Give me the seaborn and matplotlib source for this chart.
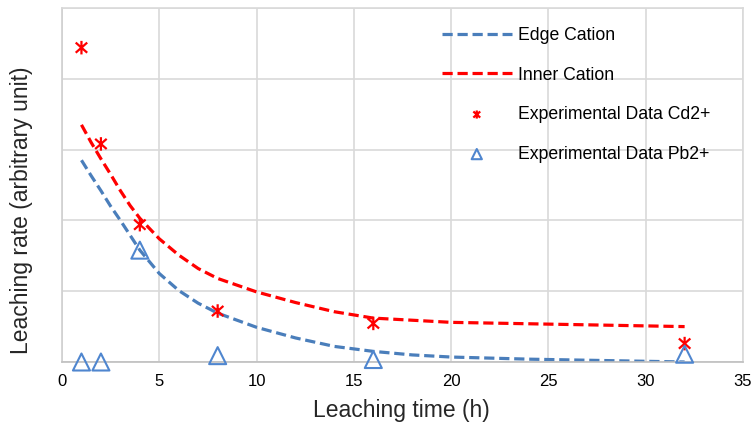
import numpy as np
import pandas as pd
import matplotlib
matplotlib.use("Agg")
import matplotlib.pyplot as plt
from matplotlib.path import Path
import seaborn as sns

# ---- data ----
curve_x = [1, 1.5, 2, 2.5, 3, 3.5, 4, 5, 6, 7, 8, 10, 12, 14, 16, 18, 20, 24, 28, 32]
edge_y = [2.85, 2.63, 2.42, 2.20, 2.00, 1.79, 1.58, 1.25, 1.01, 0.83, 0.69, 0.49,
          0.34, 0.22, 0.15, 0.10, 0.07, 0.04, 0.02, 0.0]
inner_y = [3.35, 3.10, 2.87, 2.65, 2.42, 2.21, 2.03, 1.74, 1.51, 1.32, 1.18, 0.99,
           0.84, 0.71, 0.62, 0.59, 0.56, 0.54, 0.52, 0.50]
exp_x = [1, 2, 4, 8, 16, 32]
cd_y = [4.44, 3.08, 1.94, 0.72, 0.545, 0.26]
pb_y = [0.0, 0.0, 1.58, 0.09, 0.035, 0.11]
x_ticks = [0, 5, 10, 15, 20, 25, 30, 35]
y_grid = [0, 1, 2, 3, 4, 5]
labels = ["Edge Cation", "Inner Cation", "Experimental Data Cd2+", "Experimental Data Pb2+"]
x_label = "Leaching time (h)"
y_label = "Leaching rate (arbitrary unit)"

BLUE_LINE = "#4A7EBB"
BLUE_MARK = "#4F86CF"
RED = "#FF0000"
GRID = "#D9D9D9"

sns.set_style("white")
plt.rcParams["font.family"] = ["Liberation Sans", "DejaVu Sans"]

W, H = 755, 428
fig = plt.figure(figsize=(W / 100, H / 100), dpi=100)
ax = fig.add_axes([62 / W, 1 - 362 / H, (743 - 62) / W, (362 - 8) / H])

curves = pd.DataFrame({"x": curve_x, "edge": edge_y, "inner": inner_y})
exp = pd.DataFrame({"x": exp_x, "cd": cd_y, "pb": pb_y})

sns.lineplot(data=curves, x="x", y="edge", color=BLUE_LINE, lw=2.3, ax=ax,
             label=labels[0], sort=True)
sns.lineplot(data=curves, x="x", y="inner", color=RED, lw=2.3, ax=ax,
             label=labels[1], sort=True)
for ln in ax.lines[:2]:
    ln.set_linestyle((0, (3.2, 1.5)))
    ln.set_dash_capstyle("butt")

star = Path([(0, -1), (0, 1), (-0.85, -0.75), (0.85, 0.75), (-0.85, 0.75), (0.85, -0.75)],
            [Path.MOVETO, Path.LINETO, Path.MOVETO, Path.LINETO, Path.MOVETO, Path.LINETO])

sns.scatterplot(data=exp, x="x", y="cd", marker=star, s=95, facecolors="none",
                edgecolor=RED, linewidth=1.6, ax=ax, label=labels[2], zorder=4,
                clip_on=False)
sns.scatterplot(data=exp, x="x", y="pb", marker="^", s=150, facecolors="none",
                edgecolor=BLUE_MARK, linewidth=1.5, ax=ax, label=labels[3], zorder=4,
                clip_on=False)

ax.set_xlim(0, 35)
ax.set_ylim(0, 5)
ax.set_xticks(x_ticks)
ax.set_yticks(y_grid)
ax.set_yticklabels([])
ax.grid(True, color=GRID, lw=1.2)
ax.set_axisbelow(True)
ax.tick_params(axis="x", length=0, labelsize=12, colors="#000000", pad=9)
ax.tick_params(axis="y", length=0)
for side, sp in ax.spines.items():
    sp.set_visible(True)
    sp.set_color(GRID)
    sp.set_linewidth(1.2)
ax.spines["bottom"].set_color("#BFBFBF")
ax.spines["left"].set_color("#D0D0D0")
ax.set_xlabel("")
ax.set_ylabel("")

fig.text(401 / W, 1 - 411 / H, x_label, ha="center", va="center", fontsize=16.5)
fig.text(22 / W, 1 - 210 / H, y_label, ha="center", va="center", rotation=90,
         fontsize=16.5)

leg = ax.legend(loc="upper left", bbox_to_anchor=(441.5 / W, 1 - 27 / H),
                bbox_transform=fig.transFigure, frameon=False, fontsize=12.7,
                handlelength=4.0, handletextpad=0.35, labelspacing=1.28,
                borderpad=0, borderaxespad=0, markerscale=0.6)
for t in leg.get_texts():
    t.set_color("#000000")

fig.savefig("out.png", dpi=100)
